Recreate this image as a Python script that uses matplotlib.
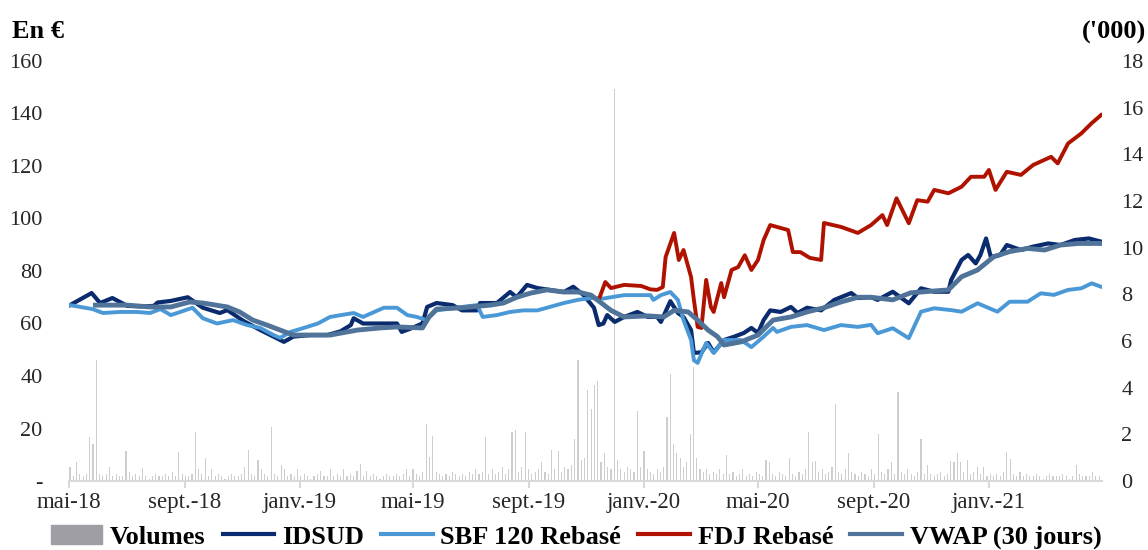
import pandas as pd
import matplotlib
matplotlib.use("Agg")
import matplotlib.pyplot as plt
from matplotlib.patches import Patch
from matplotlib.lines import Line2D

plt.rcParams['font.family'] = ['Liberation Serif', 'DejaVu Serif']

# ---- IDSUD (en €) ----
idsud_dates = ['2018-05-02', '2018-05-25', '2018-06-03', '2018-06-16', '2018-07-02', '2018-07-16',
               '2018-07-30', '2018-08-03', '2018-08-17', '2018-09-04', '2018-09-20', '2018-10-08',
               '2018-10-16', '2018-11-02', '2018-11-20', '2018-12-04', '2018-12-15', '2018-12-25',
               '2019-01-12', '2019-01-30', '2019-02-13', '2019-02-24', '2019-02-27', '2019-03-09',
               '2019-03-27', '2019-04-14', '2019-04-19', '2019-04-28', '2019-05-11', '2019-05-16',
               '2019-05-26', '2019-06-12', '2019-06-22', '2019-07-08', '2019-07-11', '2019-07-29',
               '2019-08-12', '2019-08-19', '2019-08-30', '2019-09-10', '2019-09-23', '2019-10-08',
               '2019-10-18', '2019-10-29', '2019-11-09', '2019-11-14', '2019-11-19', '2019-11-23',
               '2019-12-01', '2019-12-11', '2019-12-25', '2020-01-05', '2020-01-15', '2020-01-19',
               '2020-01-29', '2020-02-06', '2020-02-12', '2020-02-20', '2020-02-23', '2020-03-02',
               '2020-03-09', '2020-03-15', '2020-03-26', '2020-04-06', '2020-04-16', '2020-04-24',
               '2020-05-01', '2020-05-07', '2020-05-14', '2020-05-25', '2020-06-05', '2020-06-12',
               '2020-06-22', '2020-07-07', '2020-07-21', '2020-08-08', '2020-08-15', '2020-08-29',
               '2020-09-05', '2020-09-21', '2020-10-08', '2020-10-21', '2020-11-04', '2020-11-19',
               '2020-11-22', '2020-12-03', '2020-12-10', '2020-12-18', '2020-12-23', '2020-12-29',
               '2021-01-03', '2021-01-13', '2021-01-20', '2021-02-04', '2021-02-17', '2021-03-05',
               '2021-03-18', '2021-04-02', '2021-04-17', '2021-04-30']
idsud = [67.0, 71.6, 67.8, 69.7, 66.7, 66.5,
         66.7, 68.0, 68.6, 70.0, 66.0, 64.0,
         65.1, 61.0, 57.5, 55.0, 53.0, 55.0,
         55.6, 55.6, 57.0, 59.4, 62.0, 60.0,
         60.0, 60.0, 56.8, 58.0, 60.0, 66.3,
         67.8, 67.0, 65.0, 65.0, 67.8, 67.8,
         72.0, 70.0, 74.7, 73.5, 72.8, 72.0,
         74.0, 70.8, 66.0, 59.4, 60.0, 63.2,
         60.6, 62.5, 64.4, 62.5, 62.5, 60.6,
         68.5, 64.0, 62.5, 57.5, 48.8, 49.0,
         52.6, 49.0, 53.7, 55.0, 56.4, 58.3,
         56.4, 61.3, 65.0, 64.4, 66.3, 64.0,
         66.0, 65.0, 69.0, 71.6, 69.7, 70.0,
         69.0, 72.1, 67.7, 73.4, 72.1, 72.1,
         76.6, 84.2, 86.1, 82.9, 86.1, 92.4,
         85.4, 86.1, 89.9, 88.0, 89.3, 90.5,
         89.9, 91.8, 92.4, 91.2]

# ---- SBF 120 rebasé ----
sbf_dates = ['2018-05-02', '2018-05-26', '2018-06-06', '2018-06-24', '2018-07-12', '2018-07-26',
             '2018-08-06', '2018-08-17', '2018-08-27', '2018-09-09', '2018-09-20', '2018-10-05',
             '2018-10-22', '2018-11-06', '2018-11-20', '2018-12-04', '2018-12-11', '2018-12-22',
             '2019-01-05', '2019-01-20', '2019-02-02', '2019-02-27', '2019-03-09', '2019-03-31',
             '2019-04-14', '2019-04-25', '2019-05-05', '2019-05-15', '2019-05-26', '2019-06-22',
             '2019-07-08', '2019-07-14', '2019-07-29', '2019-08-12', '2019-08-26', '2019-09-10',
             '2019-09-23', '2019-10-08', '2019-10-23', '2019-11-06', '2019-11-19', '2019-11-27',
             '2019-12-11', '2019-12-29', '2020-01-08', '2020-01-11', '2020-01-19', '2020-01-29',
             '2020-02-06', '2020-02-12', '2020-02-20', '2020-02-23', '2020-02-27', '2020-03-07',
             '2020-03-15', '2020-03-26', '2020-04-13', '2020-04-24', '2020-05-07', '2020-05-17',
             '2020-05-21', '2020-06-05', '2020-06-22', '2020-07-10', '2020-07-28', '2020-08-15',
             '2020-08-29', '2020-09-05', '2020-09-21', '2020-10-08', '2020-10-21', '2020-11-04',
             '2020-11-22', '2020-12-03', '2020-12-20', '2021-01-10', '2021-01-23', '2021-02-11',
             '2021-02-25', '2021-03-11', '2021-03-26', '2021-04-09', '2021-04-20', '2021-04-30']
sbf = [67.0, 65.5, 64.0, 64.4, 64.4, 64.0,
       65.5, 63.2, 64.4, 66.0, 62.0, 60.0,
       61.3, 59.4, 58.3, 55.6, 54.5, 56.8,
       58.3, 60.0, 62.5, 64.0, 62.5, 66.0,
       66.0, 63.2, 62.5, 61.3, 65.0, 66.3,
       67.0, 62.5, 63.2, 64.4, 65.0, 65.0,
       66.3, 67.8, 69.0, 69.7, 69.5, 70.0,
       70.8, 70.8, 70.8, 69.0, 70.8, 72.0,
       69.0, 61.3, 53.7, 46.0, 45.0, 52.6,
       48.8, 53.7, 53.7, 51.0, 55.0, 58.3,
       56.8, 58.7, 59.4, 57.5, 59.4, 58.7,
       59.5, 56.3, 58.2, 54.4, 64.5, 65.8,
       65.1, 64.5, 67.7, 64.5, 68.3, 68.3,
       71.5, 70.9, 72.8, 73.4, 75.3, 74.0]

# ---- FDJ rebasé (depuis l'introduction) ----
fdj_dates = ['2019-11-14', '2019-11-21', '2019-11-27', '2019-12-11', '2019-12-29', '2020-01-08',
             '2020-01-15', '2020-01-21', '2020-01-24', '2020-02-02', '2020-02-07', '2020-02-12',
             '2020-02-20', '2020-02-23', '2020-02-27', '2020-03-02', '2020-03-07', '2020-03-12',
             '2020-03-15', '2020-03-23', '2020-03-26', '2020-04-03', '2020-04-10', '2020-04-17',
             '2020-04-24', '2020-05-01', '2020-05-07', '2020-05-14', '2020-05-21', '2020-06-02',
             '2020-06-07', '2020-06-15', '2020-06-25', '2020-07-07', '2020-07-10', '2020-07-28',
             '2020-08-15', '2020-08-29', '2020-09-10', '2020-09-15', '2020-09-25', '2020-10-08',
             '2020-10-17', '2020-10-28', '2020-11-04', '2020-11-19', '2020-12-03', '2020-12-13',
             '2020-12-27', '2021-01-01', '2021-01-08', '2021-01-20', '2021-02-04', '2021-02-17',
             '2021-03-08', '2021-03-15', '2021-03-26', '2021-04-09', '2021-04-20', '2021-04-30']
fdj = [69.0, 75.8, 73.5, 74.7, 74.3, 73.0,
       72.8, 73.9, 85.3, 94.5, 84.2, 88.0,
       77.7, 69.0, 58.7, 58.3, 76.6, 66.3,
       64.4, 75.4, 70.0, 80.4, 81.5, 86.0,
       80.4, 84.2, 91.8, 97.5, 96.8, 95.6,
       87.2, 87.2, 85.0, 84.2, 98.3, 96.8,
       94.5, 97.5, 101.3, 97.5, 107.7, 98.2,
       107.0, 106.4, 110.9, 109.6, 112.1, 115.9,
       115.9, 118.5, 110.9, 117.8, 116.6, 120.4,
       123.5, 121.0, 128.6, 132.4, 136.3, 139.4]

# ---- VWAP 30 jours ----
vwap_dates = ['2018-05-29', '2018-07-02', '2018-07-26', '2018-08-17', '2018-09-06', '2018-09-20',
              '2018-10-16', '2018-10-29', '2018-11-12', '2018-11-27', '2018-12-11', '2018-12-25',
              '2019-01-16', '2019-02-02', '2019-03-03', '2019-03-27', '2019-04-14', '2019-05-11',
              '2019-05-18', '2019-05-26', '2019-06-22', '2019-07-22', '2019-08-05', '2019-08-19',
              '2019-09-03', '2019-09-20', '2019-10-08', '2019-10-23', '2019-11-06', '2019-11-27',
              '2019-12-11', '2020-01-05', '2020-01-22', '2020-02-02', '2020-02-17', '2020-02-27',
              '2020-03-09', '2020-03-19', '2020-03-26', '2020-04-13', '2020-05-01', '2020-05-17',
              '2020-06-05', '2020-06-22', '2020-07-10', '2020-07-28', '2020-08-15', '2020-08-29',
              '2020-09-21', '2020-10-10', '2020-11-19', '2020-12-03', '2020-12-20', '2021-01-06',
              '2021-01-23', '2021-02-11', '2021-03-01', '2021-03-18', '2021-04-06', '2021-04-30']
vwap = [67.0, 67.0, 66.3, 66.3, 68.2, 67.8,
        66.3, 64.4, 61.3, 59.4, 57.5, 55.6,
        55.6, 55.6, 57.5, 58.3, 58.7, 58.3,
        62.5, 65.5, 66.0, 67.0, 67.8, 70.0,
        71.6, 72.8, 72.0, 72.0, 70.8, 65.0,
        62.5, 62.9, 62.5, 65.0, 64.4, 61.3,
        57.5, 55.0, 51.8, 53.0, 55.6, 61.3,
        62.5, 64.4, 66.0, 68.2, 70.0, 70.0,
        69.0, 71.7, 72.8, 77.8, 80.4, 85.4,
        87.4, 88.6, 88.0, 89.9, 90.5, 90.5]

# ---- Volumes ('000 titres), un point tous les 3,5 jours depuis le 02/05/2018 ----
vol_start = '2018-05-02'
volumes = [0.6, 0.2, 0.8, 0.3, 0.2, 0.3, 1.9, 1.6, 5.2, 0.3,
           0.2, 0.3, 0.6, 0.2, 0.3, 0.2, 0.2, 1.3, 0.4, 0.2,
           0.3, 0.2, 0.55, 0.2, 0.1, 0.2, 0.3, 0.2, 0.2, 0.3,
           0.2, 0.4, 0.2, 1.25, 0.3, 0.2, 0.2, 0.3, 2.1, 0.5,
           0.3, 1.0, 0.2, 0.5, 0.2, 0.3, 0.2, 0.1, 0.2, 0.3,
           0.2, 0.2, 0.3, 0.6, 1.35, 0.3, 0.2, 0.9, 0.5, 0.3,
           0.2, 2.3, 0.3, 0.2, 0.7, 0.5, 0.2, 0.3, 0.2, 0.5,
           0.2, 0.3, 0.2, 0.1, 0.2, 0.3, 0.45, 0.2, 0.2, 0.5,
           0.2, 0.3, 0.2, 0.5, 0.2, 0.3, 0.2, 0.45, 0.75, 0.2,
           0.45, 0.2, 0.3, 0.2, 0.1, 0.2, 0.3, 0.2, 0.2, 0.3,
           0.2, 0.3, 0.5, 0.2, 0.5, 0.3, 0.2, 0.4, 2.45, 1.05,
           1.95, 0.4, 0.3, 0.2, 0.3, 0.2, 0.4, 0.3, 0.2, 0.3,
           0.2, 0.4, 0.3, 0.5, 0.3, 0.4, 1.9, 0.3, 0.5, 0.3,
           0.4, 0.6, 0.3, 0.5, 2.1, 2.2, 0.4, 0.6, 2.1, 0.5,
           0.3, 0.4, 0.5, 0.8, 0.4, 0.3, 1.35, 0.5, 1.3, 0.4,
           0.6, 0.5, 0.7, 1.8, 5.2, 0.9, 1.0, 3.9, 3.1, 4.1,
           4.3, 0.8, 1.2, 0.6, 0.5, 16.8, 0.9, 0.5, 0.4, 0.6,
           0.5, 0.4, 3.0, 0.6, 1.3, 0.5, 0.4, 0.3, 0.5, 0.4,
           0.6, 2.75, 4.6, 1.6, 1.2, 1.0, 0.6, 0.8, 2.0, 4.9,
           1.0, 0.5, 0.4, 0.5, 0.3, 0.4, 0.3, 0.5, 0.3, 1.1,
           0.3, 0.4, 0.2, 0.3, 0.5, 0.2, 0.3, 0.2, 0.4, 0.3,
           0.2, 0.9, 0.8, 0.3, 0.2, 0.4, 0.3, 0.2, 1.0, 0.3,
           0.2, 0.4, 0.3, 0.5, 2.1, 0.8, 0.85, 0.4, 0.5, 0.3,
           0.4, 0.6, 3.3, 0.4, 0.3, 0.5, 1.2, 0.4, 0.3, 0.2,
           0.4, 0.3, 0.2, 0.5, 0.3, 2.0, 0.4, 0.3, 0.5, 0.8,
           0.3, 3.8, 0.4, 0.3, 0.5, 0.3, 0.2, 0.4, 1.8, 0.3,
           0.7, 0.3, 0.2, 0.3, 0.4, 0.2, 0.3, 0.85, 0.8, 1.2,
           0.8, 0.4, 0.9, 0.3, 0.4, 0.6, 0.3, 0.6, 0.2, 0.3,
           0.2, 0.3, 0.2, 0.4, 1.25, 0.95, 0.3, 0.2, 0.4, 0.2,
           0.3, 0.2, 0.2, 0.3, 0.2, 0.1, 0.2, 0.3, 0.2, 0.2,
           0.2, 0.3, 0.2, 0.1, 0.2, 0.7, 0.3, 0.2, 0.2, 0.2,
           0.4, 0.2, 0.2]

# ---- axes / labels ----
tick_dates = ['2018-05-01', '2018-09-01', '2019-01-01', '2019-05-01', '2019-09-01',
              '2020-01-01', '2020-05-01', '2020-09-01', '2021-01-01']
tick_labels = ['mai-18', 'sept.-18', 'janv.-19', 'mai-19', 'sept.-19',
               'janv.-20', 'mai-20', 'sept.-20', 'janv.-21']
left_ticks = [0, 20, 40, 60, 80, 100, 120, 140, 160]
left_labels = ['-', '20', '40', '60', '80', '100', '120', '140', '160']
right_ticks = [0, 2, 4, 6, 8, 10, 12, 14, 16, 18]

series_names = ['Volumes', 'IDSUD', 'SBF 120 Rebasé', 'FDJ Rebasé', 'VWAP (30 jours)']
c_vol, c_vol_leg = '#CDCDCF', '#9E9EA4'
c_idsud, c_sbf, c_fdj, c_vwap = '#0A2C6E', '#4A98D6', '#B01200', '#4F7399'

W, H = 1148, 550
fig = plt.figure(figsize=(W / 100, H / 100), dpi=100)
ax = fig.add_axes([69 / W, 69 / H, 1033 / W, 420 / H])
ax2 = ax.twinx()

# volumes on the secondary axis, drawn under the lines
vol_dates = pd.date_range(vol_start, periods=len(volumes), freq='84h')
ax2.bar(vol_dates, volumes, width=1.2, color=c_vol, linewidth=0)
ax.set_zorder(ax2.get_zorder() + 1)
ax.patch.set_visible(False)

ax.plot(pd.to_datetime(idsud_dates), idsud, color=c_idsud, lw=3.0, solid_joinstyle='round')
ax.plot(pd.to_datetime(sbf_dates), sbf, color=c_sbf, lw=2.8, solid_joinstyle='round')
ax.plot(pd.to_datetime(fdj_dates), fdj, color=c_fdj, lw=2.8, solid_joinstyle='round')
ax.plot(pd.to_datetime(vwap_dates), vwap, color=c_vwap, lw=3.5, solid_joinstyle='round')

ax.set_xlim(pd.Timestamp('2018-05-01'), pd.Timestamp('2021-05-01'))
ax.set_ylim(0, 160)
ax2.set_ylim(0, 18)

ax.set_xticks(pd.to_datetime(tick_dates))
ax.set_xticklabels(tick_labels)
ax.set_yticks(left_ticks)
ax.set_yticklabels(left_labels)
ax2.set_yticks(right_ticks)
ax2.set_yticklabels([str(v) for v in right_ticks])

for a in (ax, ax2):
    for s in a.spines.values():
        s.set_visible(False)
ax.spines['bottom'].set_visible(True)
ax.spines['bottom'].set_color('#D9D9D9')
ax.spines['bottom'].set_linewidth(1.5)

ax.tick_params(axis='x', length=5, width=1.5, color='#D9D9D9', labelsize=16.5,
               labelcolor='#262626', pad=3)
ax.tick_params(axis='y', length=0, pad=19, labelsize=16, labelcolor='#262626')
ax2.tick_params(axis='y', length=0, pad=14, labelsize=16, labelcolor='#262626')

fig.text(12 / W, 1 - 32 / H, 'En €', fontsize=19, fontweight='bold', ha='left', va='center')
fig.text(1146 / W, 1 - 32 / H, "('000)", fontsize=19, fontweight='bold', ha='right', va='center')

handles = [Patch(color=c_vol_leg),
           Line2D([], [], color=c_idsud, lw=3),
           Line2D([], [], color=c_sbf, lw=3),
           Line2D([], [], color=c_fdj, lw=3),
           Line2D([], [], color=c_vwap, lw=3)]
fig.legend(handles, series_names, loc='center', bbox_to_anchor=(576 / W, 1 - 537 / H),
           ncol=5, frameon=False, prop={'weight': 'bold', 'size': 19},
           handlelength=1.95, handletextpad=0.3, columnspacing=0.65)

fig.savefig('out.png', dpi=100)
